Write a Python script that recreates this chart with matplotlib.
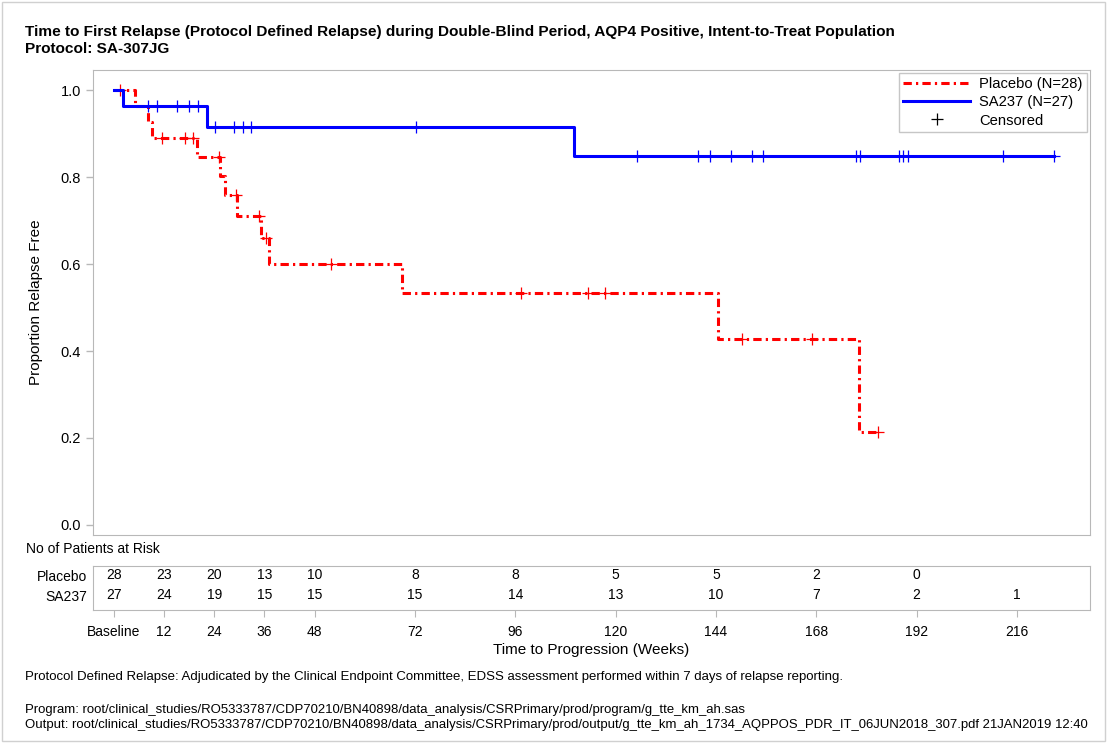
import numpy as np
import matplotlib.pyplot as plt
from matplotlib.lines import Line2D
from matplotlib.patches import Rectangle

plt.rcParams['font.family'] = ['Liberation Sans', 'DejaVu Sans']
plt.rcParams['lines.scale_dashes'] = False

# Kaplan-Meier steps (weeks, proportion relapse free after the event)
pbo_event_t = [0, 5.0, 8.2, 9.2, 19.8, 25.5, 26.5, 29.5, 35.1, 37.1, 68.8, 144.4, 178.3]
pbo_event_s = [1.0, 0.963, 0.926, 0.889, 0.847, 0.802, 0.758, 0.710, 0.660, 0.600, 0.533, 0.427, 0.213]
pbo_cens_t = [1.5, 11.5, 17.0, 19.0, 25.1, 29.2, 34.7, 36.4, 51.9, 97.5, 113.5, 117.5, 150.2, 167.1, 182.7]

sa_event_t = [0, 2.2, 22.3, 110.0]
sa_event_s = [1.0, 0.963, 0.914, 0.849]
sa_cens_t = [8.2, 10.2, 15.2, 18.0, 20.1, 24.3, 28.8, 30.9, 32.9, 72.2, 125.2, 139.7, 142.5,
             147.7, 152.6, 155.3, 177.6, 178.4, 187.7, 188.8, 190.0, 212.8, 224.9]

# number at risk
risk_times = [0, 12, 24, 36, 48, 72, 96, 120, 144, 168, 192, 216]
risk_labels = ['Baseline', '12', '24', '36', '48', '72', '96', '120', '144', '168', '192', '216']
pbo_risk = [28, 23, 20, 13, 10, 8, 8, 5, 5, 2, 0, None]
sa_risk = [27, 24, 19, 15, 15, 15, 14, 13, 10, 7, 2, 1]

RED = '#FF0000'
BLUE = '#0000FF'
GRAY = '#B8B8B8'
dashdot = (0, (6, 3, 1.6, 3))


def surv_at(t_ev, s_ev, t):
    idx = np.searchsorted(np.array(t_ev), np.array(t), side='right') - 1
    return np.array(s_ev)[idx]


fig = plt.figure(figsize=(11.07, 7.43), dpi=100)
fig.patches.append(Rectangle((0.002, 0.003), 0.996, 0.994, transform=fig.transFigure,
                             fill=False, edgecolor='#D0D0D0', lw=1))

ax = fig.add_axes([93/1107, 1 - 535/743, (1090 - 93)/1107, (535 - 70)/743])
axr = fig.add_axes([93/1107, 1 - 610/743, (1090 - 93)/1107, (610 - 566)/743], sharex=ax)

# curves: placebo first so the blue line sits on top where they overlap
pt = pbo_event_t + [pbo_cens_t[-1]]
ps = pbo_event_s + [pbo_event_s[-1]]
ax.step(pt, ps, where='post', color=RED, lw=2.2, ls=dashdot)
ax.plot(pbo_cens_t, surv_at(pbo_event_t, pbo_event_s, pbo_cens_t), '+', color=RED,
        ms=8.5, mew=0.9)

st = sa_event_t + [sa_cens_t[-1]]
ss = sa_event_s + [sa_event_s[-1]]
ax.step(st, ss, where='post', color=BLUE, lw=2.2)
ax.plot(sa_cens_t, surv_at(sa_event_t, sa_event_s, sa_cens_t), '+', color=BLUE,
        ms=8.5, mew=0.9)

ax.set_xlim(-5, 233.5)
ax.set_ylim(-0.023, 1.046)
ax.set_yticks([0.0, 0.2, 0.4, 0.6, 0.8, 1.0])
ax.set_yticklabels(['0.0', '0.2', '0.4', '0.6', '0.8', '1.0'])
ax.tick_params(axis='y', labelsize=10.5, color=GRAY, length=5, width=1)
ax.tick_params(axis='x', bottom=False, labelbottom=False)
for s in ax.spines.values():
    s.set_color(GRAY)
ax.set_ylabel('Proportion Relapse Free', fontsize=11, labelpad=13)

handles = [Line2D([], [], color=RED, lw=2.2, ls=dashdot),
           Line2D([], [], color=BLUE, lw=2.2),
           Line2D([], [], ls='none', marker='+', color='black', ms=8.5, mew=0.9)]
leg = ax.legend(handles, ['Placebo (N=28)', 'SA237 (N=27)', 'Censored'], loc='upper right',
                fontsize=10.6, frameon=True, fancybox=False, edgecolor=GRAY,
                handlelength=4.5, borderaxespad=0.2, labelspacing=0.28, borderpad=0.3,
                handletextpad=0.65)
leg.get_frame().set_linewidth(1)

# at-risk table
for t, n in zip(risk_times, pbo_risk):
    if n is not None:
        axr.text(t, 0.79, str(n), ha='center', va='center', fontsize=10)
for t, n in zip(risk_times, sa_risk):
    axr.text(t, 0.34, str(n), ha='center', va='center', fontsize=10)
axr.set_ylim(0, 1)
axr.set_yticks([0.79, 0.34])
axr.set_yticklabels(['Placebo', 'SA237'])
axr.tick_params(axis='y', length=0, labelsize=10, pad=4)
axr.set_xticks(risk_times)
axr.set_xticklabels(risk_labels)
axr.tick_params(axis='x', labelsize=10, color=GRAY, length=5, pad=6)
for s in axr.spines.values():
    s.set_color(GRAY)
axr.set_xlabel('Time to Progression (Weeks)', fontsize=11, labelpad=3)

fig.text(26/1107, 1 - 549/743, 'No of Patients at Risk', fontsize=10, va='center')

fig.text(25/1107, 1 - 32/743, 'Time to First Relapse (Protocol Defined Relapse) during Double-Blind Period, '
         'AQP4 Positive, Intent-to-Treat Population', fontsize=11.05, fontweight='bold', va='center')
fig.text(25/1107, 1 - 49/743, 'Protocol: SA-307JG', fontsize=11.05, fontweight='bold', va='center')

fig.text(25/1107, 1 - 677/743, 'Protocol Defined Relapse: Adjudicated by the Clinical Endpoint Committee, '
         'EDSS assessment performed within 7 days of relapse reporting.', fontsize=9.55, va='center')
fig.text(25/1107, 1 - 710/743, 'Program: root/clinical_studies/RO5333787/CDP70210/BN40898/data_analysis/'
         'CSRPrimary/prod/program/g_tte_km_ah.sas', fontsize=9.45, va='center')
fig.text(25/1107, 1 - 725/743, 'Output: root/clinical_studies/RO5333787/CDP70210/BN40898/data_analysis/'
         'CSRPrimary/prod/output/g_tte_km_ah_1734_AQPPOS_PDR_IT_06JUN2018_307.pdf 21JAN2019 12:40',
         fontsize=9.45, va='center')

fig.savefig('out.png', dpi=100)
